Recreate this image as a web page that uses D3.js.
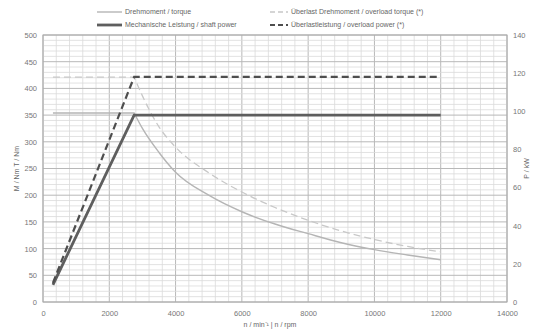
<!DOCTYPE html>
<html>
<head>
<meta charset="utf-8">
<script src="https://cdn.jsdelivr.net/npm/d3@7"></script>
<style>
  body { margin: 0; background: #fff; }
  text { font-family: "Liberation Sans", Arial, sans-serif; fill: #666; }
</style>
</head>
<body>
<div id="chart"></div>
<script>
// values
const rpmTicks = [0, 2000, 4000, 6000, 8000, 10000, 12000, 14000];
const torqueTicks = [0, 50, 100, 150, 200, 250, 300, 350, 400, 450, 500];
const powerTicks = [0, 20, 40, 60, 80, 100, 120, 140];

// torque / Nm
const torqueRpm = [300, 2750, 3000, 3500, 4000, 5000, 6000, 7000, 8000, 9000, 10000, 11000, 12000];
const torque = [354, 354, 325, 280, 243, 200, 169, 146, 128, 111, 98, 88, 79];
const overloadTorque = [421, 421, 386, 328, 290, 242, 206, 177, 153, 133, 117, 104, 94];

// power / kW
const powerRpm = [300, 2750, 12000];
const power = [9, 98, 98];
const overloadPower = [10, 118, 118];

const W = 534, H = 331;
const margin = { left: 43, right: 27, top: 35, bottom: 29 };
const width = W - margin.left - margin.right;
const height = H - margin.top - margin.bottom;

const svg = d3.select('#chart').append('svg')
  .attr('width', W).attr('height', H);
const g = svg.append('g')
  .attr('transform', 'translate(' + margin.left + ',' + margin.top + ')');

const x = d3.scaleLinear().domain([0, 14000]).range([0, width]);
const y = d3.scaleLinear().domain([0, 500]).range([height, 0]);
const y2 = d3.scaleLinear().domain([0, 140]).range([height, 0]);

// grid: minor lines first
g.append('g')
  .selectAll('line')
  .data(d3.range(0, 14001, 400))
  .join('line')
  .attr('x1', d => x(d)).attr('x2', d => x(d))
  .attr('y1', 0).attr('y2', height)
  .attr('stroke', d => d % 2000 === 0 ? '#b8b8b8' : '#dadada')
  .attr('stroke-width', d => d % 2000 === 0 ? 1 : 0.8);
g.append('g')
  .selectAll('line')
  .data(d3.range(0, 501, 10))
  .join('line')
  .attr('x1', 0).attr('x2', width)
  .attr('y1', d => y(d)).attr('y2', d => y(d))
  .attr('stroke', d => d % 50 === 0 ? '#b8b8b8' : '#dadada')
  .attr('stroke-width', d => d % 50 === 0 ? 1 : 0.8);

g.append('rect')
  .attr('width', width).attr('height', height)
  .attr('fill', 'none').attr('stroke', '#aaa');

// axes
const xAxis = g.append('g')
  .attr('transform', 'translate(0,' + height + ')')
  .call(d3.axisBottom(x).tickValues(rpmTicks).tickFormat(d3.format('d')).tickSize(0).tickPadding(9));
const yAxis = g.append('g')
  .call(d3.axisLeft(y).tickValues(torqueTicks).tickSize(0).tickPadding(6));
const y2Axis = g.append('g')
  .attr('transform', 'translate(' + width + ',0)')
  .call(d3.axisRight(y2).tickValues(powerTicks).tickSize(0).tickPadding(6));
[xAxis, yAxis, y2Axis].forEach(a => {
  a.select('.domain').remove();
  a.selectAll('.tick text').style('font-size', '7.5px').style('fill', '#777');
});

svg.append('text')
  .attr('transform', 'translate(19,' + (margin.top + height / 2) + ') rotate(-90)')
  .attr('text-anchor', 'middle')
  .style('font-size', '7px')
  .text('M / Nm   T / Nm');
svg.append('text')
  .attr('transform', 'translate(529,' + (margin.top + height / 2) + ') rotate(-90)')
  .attr('text-anchor', 'middle')
  .style('font-size', '7px')
  .text('P / kW');
svg.append('text')
  .attr('x', margin.left + x(7000) - 5)
  .attr('y', 327)
  .attr('text-anchor', 'middle')
  .style('font-size', '7px')
  .text('n / min⁻¹ | n / rpm');

// series
const series = [
  { name: 'Drehmoment / torque', xs: torqueRpm, ys: torque, scale: y,
    color: '#b5b5b5', w: 1.4, dash: null },
  { name: 'Überlast Drehmoment / overload torque (*)', xs: torqueRpm, ys: overloadTorque, scale: y,
    color: '#c8c8c8', w: 1.3, dash: '7,4' },
  { name: 'Mechanische Leistung / shaft power', xs: powerRpm, ys: power, scale: y2,
    color: '#5e5e5e', w: 2.8, dash: null },
  { name: 'Überlastleistung / overload power (*)', xs: powerRpm, ys: overloadPower, scale: y2,
    color: '#4e4e4e', w: 2.2, dash: '7,4' }
];

series.forEach(s => {
  const pts = s.xs.map((v, i) => [x(v), s.scale(s.ys[i])]);
  let d;
  if (pts.length > 3) {
    // flat part straight, falling part smooth from the corner
    const tail = d3.line().curve(d3.curveMonotoneX)(pts.slice(1));
    d = 'M' + pts[0][0] + ',' + pts[0][1] + 'L' + tail.slice(1);
  } else {
    d = d3.line()(pts);
  }
  g.append('path')
    .attr('d', d)
    .attr('fill', 'none')
    .attr('stroke', s.color)
    .attr('stroke-width', s.w)
    .attr('stroke-dasharray', s.dash);
});

// legend
const legendPos = [
  { sx: 97, y: 12 }, { sx: 270, y: 12 },
  { sx: 97, y: 25 }, { sx: 270, y: 25 }
];
series.forEach((s, i) => {
  const p = legendPos[i];
  const lw = i % 2 === 0 ? 25 : 18;
  svg.append('line')
    .attr('x1', p.sx).attr('x2', p.sx + lw)
    .attr('y1', p.y).attr('y2', p.y)
    .attr('stroke', s.color)
    .attr('stroke-width', s.w)
    .attr('stroke-dasharray', s.dash ? '5,3' : null);
  svg.append('text')
    .attr('x', p.sx + lw + 3)
    .attr('y', p.y)
    .attr('dy', '0.35em')
    .style('font-size', '7px')
    .text(s.name);
});
</script>
</body>
</html>
